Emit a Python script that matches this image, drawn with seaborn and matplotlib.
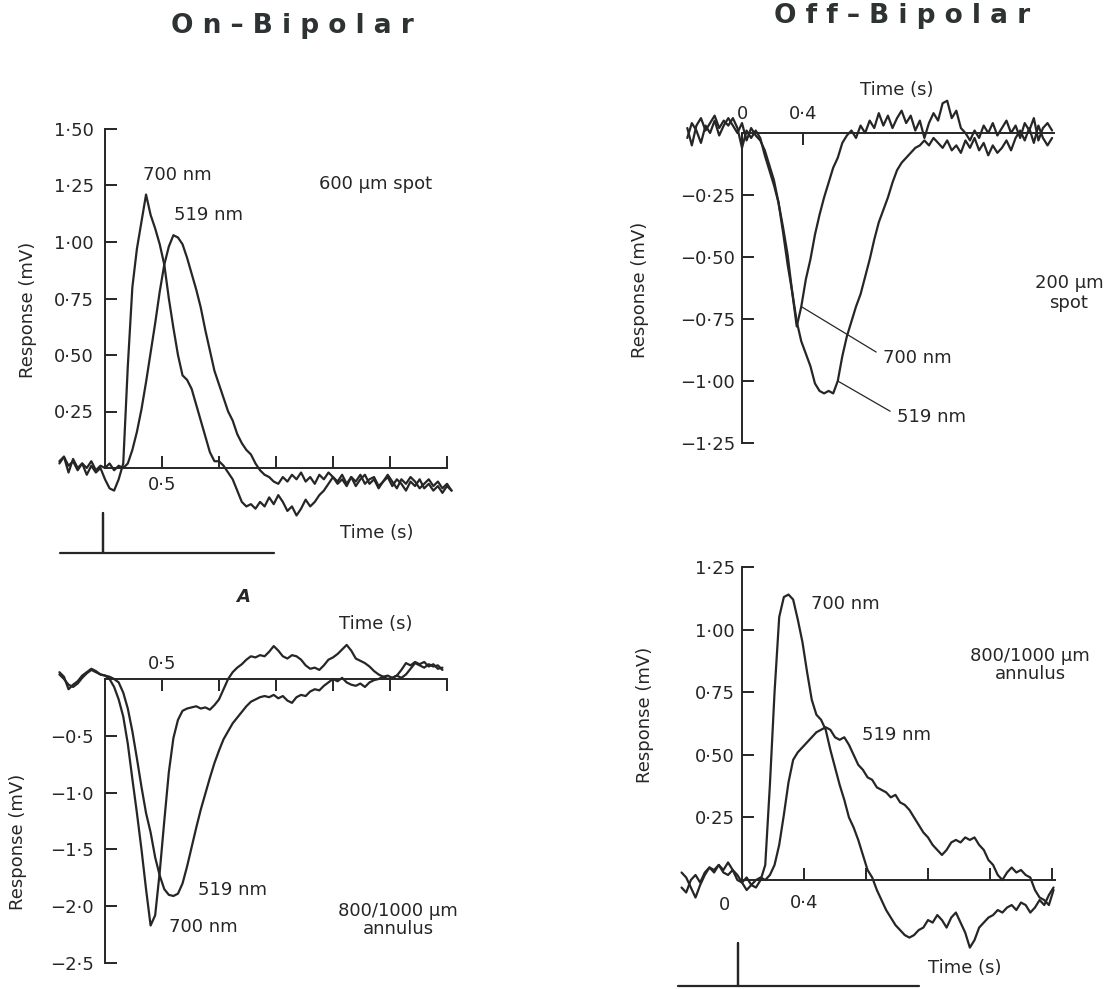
import numpy as np
import matplotlib
matplotlib.use("Agg")
import matplotlib.pyplot as plt
import seaborn as sns

# Responses in mV. On-bipolar sweeps are sampled every 0.04 s from -0.40 s,
# off-bipolar sweeps every 0.03 s (spot from -0.36 s, annulus from -0.39 s).
on_spot_700 = [
    0.03, 0.05, -0.02, 0.04, 0.00, 0.02, -0.03, 0.01, -0.02, 0.00,
    -0.05, -0.09, -0.10, -0.05, 0.02, 0.45, 0.80, 0.97, 1.09, 1.21,
    1.12, 1.06, 0.99, 0.90, 0.75, 0.62, 0.50, 0.41, 0.39, 0.35,
    0.28, 0.21, 0.14, 0.07, 0.03, 0.03, 0.01, -0.02, -0.05, -0.10,
    -0.15, -0.17, -0.16, -0.18, -0.15, -0.17, -0.13, -0.16, -0.12, -0.15,
    -0.19, -0.17, -0.21, -0.18, -0.14, -0.17, -0.15, -0.12, -0.10, -0.07,
    -0.04, -0.06, -0.03, -0.07, -0.04, -0.08, -0.05, -0.03, -0.07, -0.05,
    -0.09, -0.06, -0.04, -0.08, -0.05, -0.07, -0.10, -0.06, -0.08, -0.05,
    -0.09, -0.07, -0.10, -0.08, -0.11, -0.08, -0.10]
on_spot_519 = [
    0.02, 0.05, 0.01, 0.03, -0.01, 0.02, 0.00, 0.03, -0.01, 0.01,
    0.00, 0.02, -0.01, 0.01, 0.00, 0.02, 0.08, 0.16, 0.26, 0.38,
    0.51, 0.64, 0.78, 0.90, 0.98, 1.03, 1.02, 0.99, 0.93, 0.86,
    0.79, 0.71, 0.61, 0.52, 0.43, 0.37, 0.31, 0.25, 0.21, 0.15,
    0.11, 0.08, 0.06, 0.02, -0.01, -0.03, -0.04, -0.06, -0.07, -0.04,
    -0.06, -0.03, -0.05, -0.02, -0.06, -0.04, -0.07, -0.03, -0.05, -0.02,
    -0.04, -0.07, -0.05, -0.08, -0.04, -0.06, -0.03, -0.07, -0.05, -0.04,
    -0.08, -0.06, -0.03, -0.06, -0.09, -0.05, -0.07, -0.04, -0.06, -0.09,
    -0.07, -0.05, -0.08, -0.06, -0.09, -0.07, -0.10]

on_annulus_700 = [
    0.06, 0.02, -0.09, -0.05, -0.02, 0.03, 0.06, 0.09, 0.07, 0.04,
    0.03, 0.00, -0.07, -0.18, -0.33, -0.57, -0.88, -1.18, -1.50, -1.85,
    -2.17, -2.08, -1.70, -1.25, -0.82, -0.52, -0.36, -0.28, -0.26, -0.25,
    -0.24, -0.26, -0.25, -0.27, -0.23, -0.18, -0.09, 0.00, 0.06, 0.10,
    0.13, 0.17, 0.20, 0.19, 0.21, 0.20, 0.24, 0.29, 0.25, 0.20,
    0.18, 0.21, 0.20, 0.17, 0.12, 0.09, 0.10, 0.08, 0.12, 0.17,
    0.19, 0.22, 0.26, 0.30, 0.25, 0.18, 0.16, 0.14, 0.11, 0.07,
    0.04, 0.02, 0.03, 0.01, 0.03, 0.08, 0.14, 0.12, 0.15, 0.13,
    0.15, 0.11, 0.13, 0.09, 0.10]
on_annulus_519 = [
    0.04, 0.00, -0.05, -0.07, -0.04, 0.01, 0.05, 0.08, 0.06, 0.04,
    0.03, 0.02, 0.00, -0.03, -0.12, -0.26, -0.46, -0.70, -0.95, -1.18,
    -1.35, -1.57, -1.73, -1.85, -1.90, -1.91, -1.89, -1.80, -1.65, -1.48,
    -1.31, -1.15, -1.01, -0.87, -0.74, -0.63, -0.53, -0.46, -0.39, -0.34,
    -0.29, -0.24, -0.20, -0.18, -0.16, -0.15, -0.16, -0.14, -0.17, -0.15,
    -0.19, -0.21, -0.16, -0.14, -0.15, -0.11, -0.09, -0.10, -0.06, -0.03,
    0.00, -0.02, 0.01, -0.03, -0.05, -0.06, -0.04, -0.07, -0.03, -0.01,
    0.00, 0.02, 0.00, 0.01, 0.03, 0.01, 0.04, 0.09, 0.14, 0.12,
    0.10, 0.13, 0.11, 0.12, 0.08]

off_spot_700 = [
    0.02, -0.05, 0.03, 0.06, 0.01, 0.04, 0.07, 0.02, 0.05, 0.03,
    0.06, 0.02, -0.06, 0.01, -0.02, 0.01, -0.02, -0.09, -0.15, -0.21,
    -0.28, -0.40, -0.53, -0.64, -0.78, -0.70, -0.59, -0.51, -0.41, -0.33,
    -0.26, -0.20, -0.14, -0.10, -0.04, -0.01, 0.01, -0.02, 0.03, 0.00,
    0.05, 0.02, 0.08, 0.03, 0.07, 0.02, 0.06, 0.09, 0.04, 0.07,
    0.01, 0.05, -0.02, 0.04, 0.08, 0.05, 0.12, 0.13, 0.06, 0.09,
    0.02, 0.00, -0.03, 0.01, -0.02, 0.03, 0.00, 0.04, -0.01, 0.02,
    0.05, 0.00, 0.03, -0.02, 0.04, 0.01, 0.06, -0.03, 0.02, 0.04,
    0.01]
off_spot_519 = [
    -0.02, 0.04, 0.01, -0.04, 0.03, 0.00, 0.05, -0.01, 0.03, 0.06,
    0.03, 0.00, 0.04, -0.03, 0.02, -0.01, -0.03, -0.07, -0.13, -0.19,
    -0.28, -0.38, -0.49, -0.64, -0.76, -0.84, -0.89, -0.94, -1.01, -1.04,
    -1.05, -1.04, -1.05, -1.00, -0.90, -0.82, -0.76, -0.70, -0.65, -0.58,
    -0.51, -0.43, -0.36, -0.31, -0.26, -0.20, -0.15, -0.12, -0.10, -0.08,
    -0.06, -0.05, -0.03, -0.05, -0.02, -0.04, -0.06, -0.03, -0.07, -0.05,
    -0.08, -0.03, -0.06, -0.02, -0.07, -0.04, -0.09, -0.05, -0.08, -0.06,
    -0.03, -0.07, -0.02, 0.01, -0.03, 0.02, -0.04, 0.03, -0.02, -0.05,
    -0.02]

off_annulus_700 = [
    0.03, 0.01, -0.03, -0.07, -0.02, 0.02, 0.05, 0.03, 0.06, 0.04,
    0.07, 0.04, 0.02, -0.01, -0.04, -0.02, -0.03, 0.00, 0.06, 0.38,
    0.75, 1.05, 1.13, 1.14, 1.12, 1.04, 0.95, 0.83, 0.72, 0.66,
    0.64, 0.60, 0.52, 0.45, 0.38, 0.32, 0.25, 0.21, 0.16, 0.10,
    0.04, 0.01, -0.04, -0.08, -0.12, -0.15, -0.18, -0.20, -0.22, -0.23,
    -0.22, -0.20, -0.19, -0.16, -0.17, -0.14, -0.16, -0.19, -0.15, -0.13,
    -0.17, -0.21, -0.27, -0.24, -0.19, -0.17, -0.15, -0.14, -0.12, -0.13,
    -0.11, -0.10, -0.12, -0.09, -0.10, -0.13, -0.11, -0.08, -0.10, -0.06,
    -0.03]
off_annulus_519 = [
    -0.03, -0.05, 0.00, 0.02, -0.01, 0.03, 0.05, 0.04, 0.06, 0.03,
    0.02, 0.04, 0.00, -0.01, 0.01, -0.02, 0.00, 0.01, 0.00, 0.02,
    0.06, 0.14, 0.26, 0.39, 0.48, 0.51, 0.53, 0.55, 0.57, 0.59,
    0.60, 0.61, 0.60, 0.57, 0.56, 0.57, 0.54, 0.50, 0.46, 0.44,
    0.41, 0.40, 0.37, 0.36, 0.35, 0.33, 0.34, 0.31, 0.30, 0.28,
    0.25, 0.22, 0.19, 0.17, 0.14, 0.12, 0.10, 0.12, 0.15, 0.16,
    0.15, 0.17, 0.16, 0.17, 0.14, 0.12, 0.08, 0.06, 0.02, 0.00,
    0.03, 0.05, 0.03, 0.04, 0.02, 0.01, -0.04, -0.07, -0.08, -0.10,
    -0.04]

# stimulus monitor traces (flash at t = 0)
flash_on_time = [-0.38, 0.0, 0.0, 0.0, 1.5]
flash_off_time = [-0.39, 0.0, 0.0, 0.0, 1.17]
flash_level = [0, 0, 1, 0, 0]


def sweep_time(start, step, values):
    return np.round(start + step * np.arange(len(values)), 3)


t_on_spot = sweep_time(-0.40, 0.04, on_spot_700)
t_on_annulus = sweep_time(-0.40, 0.04, on_annulus_700)
t_off_spot = sweep_time(-0.36, 0.03, off_spot_700)
t_off_annulus = sweep_time(-0.39, 0.03, off_annulus_700)

sns.set_theme(style="ticks")
plt.rcParams["font.family"] = ["DejaVu Sans"]
INK = "#262626"
W, H = 1109, 989

fig = plt.figure(figsize=(W / 100, H / 100), dpi=100)
fig.patch.set_facecolor("white")


def ptext(x, y, s, **kw):
    kw.setdefault("fontsize", 13)
    kw.setdefault("color", INK)
    return fig.text(x / W, 1 - y / H, s, **kw)


def panel(box, x0, y0, sx, sy):
    # box in pixels (left, top, right, bottom); x0/y0 = pixel of t=0 / 0 mV
    left, top, right, bottom = box
    ax = fig.add_axes([left / W, 1 - bottom / H, (right - left) / W, (bottom - top) / H])
    ax.patch.set_alpha(0)
    lims = ((left - x0) / sx, (right - x0) / sx), ((y0 - bottom) / sy, (y0 - top) / sy)
    return ax, lims


def traces(ax, lims, t, series):
    for v in series:
        sns.lineplot(x=t, y=v, ax=ax, color=INK, linewidth=1.6, estimator=None)
    for ln in ax.lines:
        ln.set_clip_on(False)
    ax.set_xlim(*lims[0])
    ax.set_ylim(*lims[1])
    ax.set_xlabel("")
    ax.set_ylabel("")


def frame(ax, ybounds, yticks, ylabels, ypad, xside, xbounds, xticks, xlabels, xpad):
    for s in ax.spines.values():
        s.set_visible(False)
    for name, bounds in (("left", ybounds), (xside, xbounds)):
        sp = ax.spines[name]
        sp.set_visible(True)
        sp.set_position(("data", 0))
        sp.set_bounds(*bounds)
        sp.set_linewidth(1.4)
        sp.set_color(INK)
    ax.yaxis.set_ticks_position("left")
    ax.set_yticks(yticks, ylabels)
    if xside == "top":
        ax.xaxis.tick_top()
    else:
        ax.xaxis.tick_bottom()
    ax.set_xticks(xticks, xlabels)
    ax.tick_params(direction="in", length=8.6, width=1.4, color=INK,
                   labelsize=13, labelcolor=INK)
    ax.tick_params(axis="y", pad=ypad)
    ax.tick_params(axis="x", pad=xpad)


def flash(box, x0, y0, sx, unit, t):
    ax, lims = panel(box, x0, y0, sx, unit)
    sns.lineplot(x=t, y=flash_level, ax=ax, color=INK, linewidth=1.6,
                 estimator=None, sort=False)
    for ln in ax.lines:
        ln.set_clip_on(False)
    ax.set_xlim(*lims[0])
    ax.set_ylim(*lims[1])
    ax.axis("off")


# ---- On-bipolar, 600 um spot ----
ax, lims = panel((40, 100, 470, 520), 105, 468, 114, 226)
traces(ax, lims, t_on_spot, [on_spot_700, on_spot_519])
frame(ax, (0, 1.5), [0.25, 0.5, 0.75, 1.0, 1.25, 1.5],
      ["0·25", "0·50", "0·75", "1·00", "1·25", "1·50"], 8,
      "bottom", (0, 3.0), [0.5, 1.0, 1.5, 2.0, 2.5, 3.0],
      ["0·5", "", "", "", "", ""], 6)
flash((50, 505, 300, 560), 103, 553, 114, 40, flash_on_time)
ptext(177, 175, "700 nm", ha="center", va="center")
ptext(208, 215, "519 nm", ha="center", va="center")
ptext(376, 184, "600 μm spot", ha="center", va="center")
ptext(377, 533, "Time (s)", ha="center", va="center")
ptext(28, 310, "Response (mV)", rotation=90, ha="center", va="center")

# ---- On-bipolar, annulus ----
ax, lims = panel((40, 640, 470, 975), 105, 679, 114, 113.6)
traces(ax, lims, t_on_annulus, [on_annulus_700, on_annulus_519])
frame(ax, (-2.5, 0), [-0.5, -1.0, -1.5, -2.0, -2.5],
      ["−0·5", "−1·0", "−1·5", "−2·0", "−2·5"], 8,
      "top", (0, 3.0), [0.5, 1.0, 1.5, 2.0, 2.5, 3.0],
      ["0·5", "", "", "", "", ""], 4.5)
ptext(243, 597, "A", ha="center", va="center", fontweight="bold", fontstyle="italic")
ptext(376, 624, "Time (s)", ha="center", va="center")
ptext(232, 890, "519 nm", ha="center", va="center")
ptext(203, 927, "700 nm", ha="center", va="center")
ptext(398, 920, "800/1000 μm\nannulus", ha="center", va="center", linespacing=1.0)
ptext(18, 842, "Response (mV)", rotation=90, ha="center", va="center")

# ---- Off-bipolar, 200 um spot ----
ax, lims = panel((660, 95, 1100, 455), 742, 133, 152, 248)
traces(ax, lims, t_off_spot, [off_spot_700, off_spot_519])
frame(ax, (-1.25, 0), [-0.25, -0.5, -0.75, -1.0, -1.25],
      ["−0·25", "−0·50", "−0·75", "−1·00", "−1·25"], 5,
      "top", (0, 2.05), [0, 0.4], ["0", "0·4"], 7)
for label, series, k, (lx, ly) in (("700 nm", off_spot_700, 25, (883, 358)),
                                   ("519 nm", off_spot_519, 33, (897, 417))):
    ax.annotate(label, xy=(t_off_spot[k], series[k]), xytext=(lx / W, 1 - ly / H),
                textcoords="figure fraction", ha="left", va="center",
                fontsize=13, color=INK,
                arrowprops=dict(arrowstyle="-", color=INK, lw=0.9,
                                relpos=(0, 0.6), shrinkA=3, shrinkB=0))
ptext(897, 90, "Time (s)", ha="center", va="center")
ptext(1069, 293, "200 μm\nspot", ha="center", va="center", linespacing=1.2)
ptext(640, 290, "Response (mV)", rotation=90, ha="center", va="center")

# ---- Off-bipolar, annulus ----
ax, lims = panel((660, 555, 1100, 930), 742, 880, 155, 250.4)
traces(ax, lims, t_off_annulus, [off_annulus_700, off_annulus_519])
frame(ax, (0, 1.25), [0.25, 0.5, 0.75, 1.0, 1.25],
      ["0·25", "0·50", "0·75", "1·00", "1·25"], 5,
      "bottom", (0, 2.02), [0.4, 0.8, 1.2, 1.6, 2.0],
      ["0·4", "", "", "", ""], 10)
flash((670, 935, 940, 989), 738, 986, 155, 43, flash_off_time)
ptext(725, 905, "0", ha="center", va="center")
ptext(845, 604, "700 nm", ha="center", va="center")
ptext(897, 735, "519 nm", ha="center", va="center")
ptext(1030, 665, "800/1000 μm\nannulus", ha="center", va="center", linespacing=1.0)
ptext(965, 968, "Time (s)", ha="center", va="center")
ptext(645, 715, "Response (mV)", rotation=90, ha="center", va="center")

# ---- column titles ----
ptext(292, 26, "O n – B i p o l a r", ha="center", va="center",
      fontsize=19, fontweight="bold", color="#2d3333")
ptext(902, 16, "O f f – B i p o l a r", ha="center", va="center",
      fontsize=19, fontweight="bold", color="#2d3333")

fig.savefig("out.png", dpi=100, facecolor="white")
